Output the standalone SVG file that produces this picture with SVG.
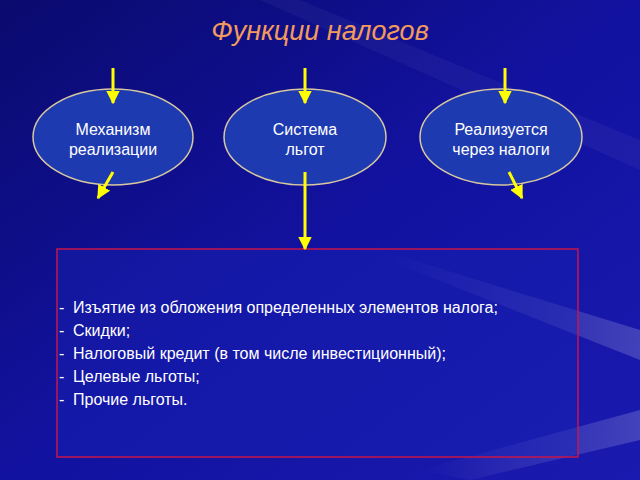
<svg xmlns="http://www.w3.org/2000/svg" width="640" height="480" viewBox="0 0 640 480">
<defs>
<linearGradient id="bg" x1="0" y1="0" x2="1" y2="1">
<stop offset="0" stop-color="#0a0a6e"/>
<stop offset="0.5" stop-color="#1212a0"/>
<stop offset="1" stop-color="#1a1ab0"/>
</linearGradient>
<linearGradient id="streak" x1="0" y1="0" x2="1" y2="0">
<stop offset="0" stop-color="#ffffff" stop-opacity="0"/>
<stop offset="1" stop-color="#ffffff" stop-opacity="0.18"/>
</linearGradient>
<marker id="ah" viewBox="0 0 10 10" refX="9" refY="5" markerWidth="4.6" markerHeight="4.6" orient="auto" markerUnits="strokeWidth">
<path d="M0,0 L10,5 L0,10 z" fill="#ffff00"/>
</marker>
<style>
.node ellipse{fill:#1e3ab0;stroke:#d8c8a0;stroke-width:1.5}
.node text{font-family:"Liberation Sans",Arial,sans-serif;font-size:16px;fill:#ffffff;text-anchor:middle}
.arr{stroke:#ffff00;stroke-width:3;fill:none;marker-end:url(#ah)}
.li{font-family:"Liberation Sans",Arial,sans-serif;font-size:16px;fill:#ffffff}
</style>
</defs>
<rect width="640" height="480" fill="url(#bg)"/>
<path d="M380,250 L640,330 L640,360 L400,265 z" fill="url(#streak)"/>
<path d="M420,470 L640,410 L640,440 L470,480 z" fill="url(#streak)"/>
<path d="M300,0 L640,140 L640,170 L260,0 z" fill="#ffffff" opacity="0.04"/>
<text x="320" y="40" text-anchor="middle" font-family="Liberation Sans,Arial,sans-serif" font-size="27" font-style="italic" fill="#f29a5c">Функции налогов</text>
<g id="box">
<rect x="57" y="249" width="521" height="208" fill="#1a22b4" fill-opacity="0.4" stroke="#c8144a" stroke-width="1.5"/>
<text class="li" x="59" y="313">-</text><text class="li" x="73" y="313">Изъятие из обложения определенных элементов налога;</text>
<text class="li" x="59" y="336">-</text><text class="li" x="73" y="336">Скидки;</text>
<text class="li" x="59" y="359">-</text><text class="li" x="73" y="359">Налоговый кредит (в том числе инвестиционный);</text>
<text class="li" x="59" y="382">-</text><text class="li" x="73" y="382">Целевые льготы;</text>
<text class="li" x="59" y="405">-</text><text class="li" x="73" y="405">Прочие льготы.</text>
</g>
<g id="n1" class="node">
<ellipse cx="113" cy="137" rx="80" ry="48"/>
<text x="113" y="135">Механизм</text>
<text x="113" y="155">реализации</text>
</g>
<g id="n2" class="node">
<ellipse cx="305" cy="137" rx="81" ry="48"/>
<text x="305" y="135">Система</text>
<text x="305" y="155">льгот</text>
</g>
<g id="n3" class="node">
<ellipse cx="501" cy="137" rx="81" ry="48"/>
<text x="501" y="135">Реализуется</text>
<text x="501" y="155">через налоги</text>
</g>
<g id="connectors">
<line class="arr" x1="113" y1="68" x2="113" y2="103"/>
<line class="arr" x1="305" y1="68" x2="305" y2="103"/>
<line class="arr" x1="505" y1="68" x2="505" y2="103"/>
<line class="arr" x1="113" y1="172" x2="98" y2="198"/>
<line class="arr" x1="305" y1="172" x2="305" y2="249"/>
<line class="arr" x1="509" y1="172" x2="522" y2="198"/>
</g>
</svg>
